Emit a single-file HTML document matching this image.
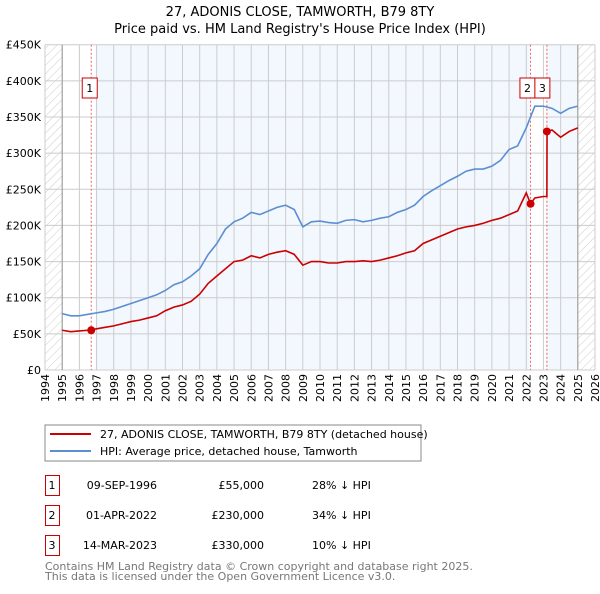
<!DOCTYPE html>
<html><head><meta charset="utf-8"><style>
body{margin:0;background:#fff;width:600px;height:590px;overflow:hidden;font-family:"DejaVu Sans","Liberation Sans",sans-serif}
svg text{font-family:"DejaVu Sans","Liberation Sans",sans-serif}
</style></head><body>
<svg id="c" width="600" height="590" xmlns="http://www.w3.org/2000/svg">
<defs><pattern id="hatch" width="6" height="6" patternUnits="userSpaceOnUse" patternTransform="rotate(45)"><line x1="0" y1="0" x2="0" y2="6" stroke="#ccc" stroke-width="1"/></pattern></defs>
<text x="300" y="16" text-anchor="middle" font-size="13">27, ADONIS CLOSE, TAMWORTH, B79 8TY</text>
<text x="300" y="33" text-anchor="middle" font-size="13">Price paid vs. HM Land Registry's House Price Index (HPI)</text>
<g id="plot"></g>
<rect x="45" y="425" width="376" height="36" fill="#fff" stroke="#888"/>
<line x1="50" y1="434" x2="91" y2="434" stroke="#cc0000" stroke-width="2"/>
<text x="100" y="438" font-size="11">27, ADONIS CLOSE, TAMWORTH, B79 8TY (detached house)</text>
<line x1="50" y1="451" x2="91" y2="451" stroke="#5b8fd1" stroke-width="2"/>
<text x="100" y="455" font-size="11">HPI: Average price, detached house, Tamworth</text>
<g font-size="11">
<rect x="45.5" y="475.5" width="14" height="20" fill="none" stroke="#cc0000"/><text x="52" y="489" text-anchor="middle">1</text>
<text x="157" y="489" text-anchor="end">09-SEP-1996</text><text x="264" y="489" text-anchor="end">£55,000</text><text x="312" y="489">28% ↓ HPI</text>
<rect x="45.5" y="505.5" width="14" height="20" fill="none" stroke="#cc0000"/><text x="52" y="519" text-anchor="middle">2</text>
<text x="157" y="519" text-anchor="end">01-APR-2022</text><text x="264" y="519" text-anchor="end">£230,000</text><text x="312" y="519">34% ↓ HPI</text>
<rect x="45.5" y="535.5" width="14" height="20" fill="none" stroke="#cc0000"/><text x="52" y="549" text-anchor="middle">3</text>
<text x="157" y="549" text-anchor="end">14-MAR-2023</text><text x="264" y="549" text-anchor="end">£330,000</text><text x="312" y="549">10% ↓ HPI</text>
</g>
<text x="45" y="570" font-size="11" fill="#777">Contains HM Land Registry data © Crown copyright and database right 2025.</text>
<text x="45" y="580" font-size="11" fill="#777">This data is licensed under the Open Government Licence v3.0.</text>
</svg>
<script>
const hpiYears=[1995,1995.5,1996,1996.5,1997,1997.5,1998,1998.5,1999,1999.5,2000,2000.5,2001,2001.5,2002,2002.5,2003,2003.5,2004,2004.5,2005,2005.5,2006,2006.5,2007,2007.5,2008,2008.5,2009,2009.5,2010,2010.5,2011,2011.5,2012,2012.5,2013,2013.5,2014,2014.5,2015,2015.5,2016,2016.5,2017,2017.5,2018,2018.5,2019,2019.5,2020,2020.5,2021,2021.5,2022,2022.5,2023,2023.5,2024,2024.5,2025];
const hpiValues=[78,75,75,77,79,81,84,88,92,96,100,104,110,118,122,130,140,160,175,195,205,210,218,215,220,225,228,222,198,205,206,204,203,207,208,205,207,210,212,218,222,228,240,248,255,262,268,275,278,278,282,290,305,310,335,365,365,362,355,362,365];
const ppYears=[1995,1995.5,1996,1996.5,1997,1997.5,1998,1998.5,1999,1999.5,2000,2000.5,2001,2001.5,2002,2002.5,2003,2003.5,2004,2004.5,2005,2005.5,2006,2006.5,2007,2007.5,2008,2008.5,2009,2009.5,2010,2010.5,2011,2011.5,2012,2012.5,2013,2013.5,2014,2014.5,2015,2015.5,2016,2016.5,2017,2017.5,2018,2018.5,2019,2019.5,2020,2020.5,2021,2021.5,2022,2022.25,2022.5,2023,2023.2,2023.21,2023.5,2024,2024.5,2025];
const ppValues=[55,53,54,55,57,59,61,64,67,69,72,75,82,87,90,95,105,120,130,140,150,152,158,155,160,163,165,160,145,150,150,148,148,150,150,151,150,152,155,158,162,165,175,180,185,190,195,198,200,203,207,210,215,220,245,230,238,240,240,330,332,322,330,335];
const saleYears=[1996.69,2022.25,2023.2];
const saleValues=[55,230,330];
const saleLabels=["1","2","3"];
const yTicks=[0,50,100,150,200,250,300,350,400,450];
const yTickLabels=["£0","£50K","£100K","£150K","£200K","£250K","£300K","£350K","£400K","£450K"];
const xTicks=[1994,1995,1996,1997,1998,1999,2000,2001,2002,2003,2004,2005,2006,2007,2008,2009,2010,2011,2012,2013,2014,2015,2016,2017,2018,2019,2020,2021,2022,2023,2024,2025,2026];

const L=45,R=595,T=44.7,B=370;
const x=v=>L+(v-1994)/32*(R-L);
const y=v=>B-v/450*(B-T);
const NS="http://www.w3.org/2000/svg";
const g=document.getElementById('plot');
function mk(t,a){const e=document.createElementNS(NS,t);for(const k in a)e.setAttribute(k,a[k]);g.appendChild(e);return e;}
let e;
e=mk('rect',{x:L,y:T,width:R-L,height:B-T,fill:'#fff'});


e=mk('rect',{x:x(1996.95),y:T,width:x(2022.25)-x(1996.95),height:B-T,fill:'#f3f7fe'});


e=mk('rect',{x:x(2023.2),y:T,width:x(2025)-x(2023.2),height:B-T,fill:'#f3f7fe'});


e=mk('rect',{x:L,y:T,width:x(1995)-L,height:B-T,fill:'url(#hatch)'});


e=mk('rect',{x:x(2025),y:T,width:R-x(2025),height:B-T,fill:'url(#hatch)'});


xTicks.forEach(v=>{
 e=mk('line',{x1:x(v),x2:x(v),y1:T,y2:B,stroke:'#ccc'});
 
 
 e=mk('text',{x:0,y:0,'font-size':11,'text-anchor':'end',transform:`translate(${x(v)+4},${B+4}) rotate(-90)`});
 e.textContent=v;
 
 
});
yTicks.forEach((v,i)=>{
 e=mk('line',{x1:L,x2:R,y1:y(v),y2:y(v),stroke:'#ccc'});
 
 
 e=mk('text',{x:L-4,y:y(v)+4,'font-size':11,'text-anchor':'end'});
 e.textContent=yTickLabels[i];
 
 
});
e=mk('line',{x1:x(1995),x2:x(1995),y1:T,y2:B,stroke:'#999'});


e=mk('line',{x1:x(2025),x2:x(2025),y1:T,y2:B,stroke:'#999'});


saleYears.forEach((s,i)=>{
 e=mk('line',{x1:x(s),x2:x(s),y1:T,y2:B,stroke:'#e66','stroke-dasharray':'2,2'});
 
 
});
e=mk('polyline',{points:hpiYears.map((v,i)=>x(v)+','+y(hpiValues[i])).join(' '),fill:'none',stroke:'#5b8fd1','stroke-width':1.6});


e=mk('polyline',{points:ppYears.map((v,i)=>x(v)+','+y(ppValues[i])).join(' '),fill:'none',stroke:'#cc0000','stroke-width':1.6});


const boxOffsets=[-9,-10.6,-12];
saleYears.forEach((s,i)=>{
 e=mk('circle',{cx:x(s),cy:y(saleValues[i]),r:4,fill:'#cc0000'});
 
 
 const bx=x(s)+boxOffsets[i];
 e=mk('rect',{x:bx,y:78,width:15,height:20,fill:'#fff',stroke:'#cc0000'});
 
 
 e=mk('text',{x:bx+7.5,y:92,'font-size':11,'text-anchor':'middle'});
 e.textContent=saleLabels[i];
 
 
});
</script>
</body></html>
